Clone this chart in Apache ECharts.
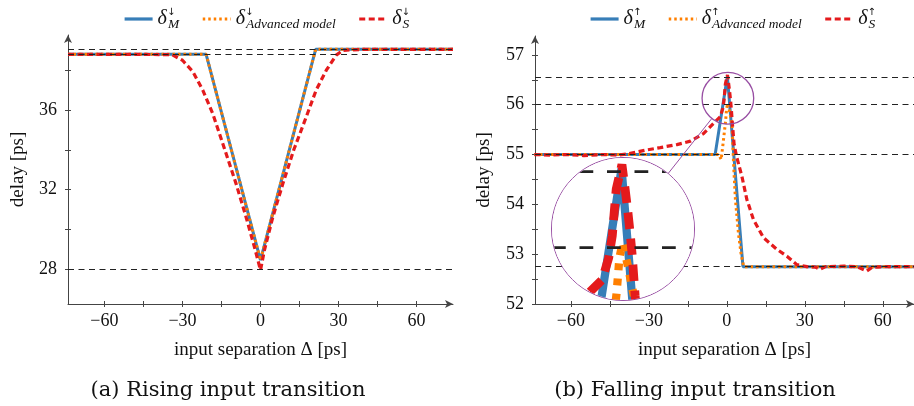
<!DOCTYPE html>
<html><head><meta charset="utf-8">
<script src="https://cdn.jsdelivr.net/npm/echarts@6/dist/echarts.min.js"></script>
<style>
html,body{margin:0;padding:0;background:#fff;}
#wrap{position:relative;width:914px;height:406px;}
#main{position:absolute;left:0;top:0;width:914px;height:406px;}
#spy{position:absolute;border:1.4px solid #984ea3;border-radius:50%;overflow:hidden;background:#fff;width:142px;height:142px;}
#inset{width:142px;height:142px;}
</style></head><body>
<div id="wrap"><div id="main"></div><div id="spy"><div id="inset"></div></div></div>
<script>
// ---------- data ----------
const risingMX  = [-74, -20.9, 0, 21.2, 74];
const risingM   = [38.8, 38.8, 28.45, 39.05, 39.05];
const risingAdvX = [-74, -20.9, 0, 21.2, 74];
const risingAdv  = [38.8, 38.8, 28.45, 39.05, 39.05];
const risingSX = [-74, -50, -34, -30, -26, -22.2, -18.3, -13.7, -9.4, -5.5, -2.3, 0, 1.5, 4.7, 8.6, 12.8, 17.6, 21.4, 25.3, 29.1, 31.7, 40, 74];
const risingS  = [38.8, 38.8, 38.78, 38.5, 37.93, 37.0, 35.8, 34.0, 32.3, 30.6, 29.1, 27.95, 28.95, 30.6, 32.3, 34.0, 35.66, 37.0, 38.0, 38.76, 39.0, 39.05, 39.05];
const risingRefLines = [39.05, 38.8, 28];

const fallingMX = [-74, -4.5, 0.2, 6.2, 72];
const fallingM  = [55, 55, 56.57, 52.75, 52.75];
const fallingAdvX = [-74, -3, -2.2, -1.5, -0.5, -0.1, 0.35, 1.0, 2.0, 2.6, 3.3, 4.5, 5.5, 6.5, 72];
const fallingAdv  = [55, 55, 54.9, 55.2, 55.66, 55.92, 56.03, 55.88, 55.62, 54.8, 54.1, 53.4, 53.0, 52.75, 52.75];
const fallingSX = [-74, -68, -62, -55, -48, -42, -38.5, -31, -25.6, -19.2, -14, -9, -5.2, -2.5, -1.6, -1.1, -0.8, -0.55, 0.25, 0.7, 1.05, 1.4, 1.7, 2.1, 2.8, 3.8, 5.8, 7.7, 10.2, 14.1, 19.2, 23.1, 26.9, 30.8, 34, 35.9, 38, 45, 50, 53.8, 56, 62, 72];
const fallingS  = [55.0, 54.99, 55.0, 54.98, 55.0, 54.99, 55.01, 55.09, 55.14, 55.2, 55.27, 55.42, 55.62, 55.76, 55.92, 56.08, 56.27, 56.42, 56.6, 56.42, 56.27, 56.1, 55.93, 55.64, 55.2, 54.95, 54.56, 54.1, 53.7, 53.33, 53.1, 52.96, 52.79, 52.75, 52.74, 52.7, 52.75, 52.76, 52.75, 52.66, 52.74, 52.75, 52.75];
const fallingRefLines = [56.55, 56.0, 55.0, 52.75];

const xTicks  = [-60, -45, -30, -15, 0, 15, 30, 45, 60];
const xLabels = [-60, -30, 0, 30, 60];
const risingYTicks  = [28, 30, 32, 34, 36, 38];
const risingYLabels = [28, 32, 36];
const fallingYTicks  = [52, 52.5, 53, 53.5, 54, 54.5, 55, 55.5, 56, 56.5, 57];
const fallingYLabels = [52, 53, 54, 55, 56, 57];

const zoomCenter = [0.4, 56.13];   // data point magnified by the spy glass
const zoomMag = 2.75;

// ---------- styles ----------
const SERIF = "'Liberation Serif','DejaVu Serif',serif";
const CAPSERIF = "'DejaVu Serif','Liberation Serif',serif";
const COL = {M: '#377eb8', A: '#ff7f00', S: '#e41a1c'};
const AX = '#444';
const LAYOUT = {
  L: {left: 68, top: 35, width: 385, height: 269, xMin: -74, xMax: 74, yMin: 26.25, yMax: 39.77},
  R: {left: 535, top: 36, width: 379, height: 268, xMin: -73.8, xMax: 72, yMin: 52, yMax: 57.38}
};
const SPY = {cx: 623.7, cy: 229.5, r: 71};

const zip = (xs, ys) => xs.map((x, i) => [x, ys[i]]);
const fmtX = v => v < 0 ? '\u2212' + (-v) : String(v);

function mainX(g, L) {
  return {type: 'value', gridIndex: g, min: L.xMin, max: L.xMax, position: 'bottom',
    axisLine: {show: true, onZero: false, lineStyle: {color: AX, width: 1}, symbol: ['none', 'arrow'], symbolSize: [6, 8]},
    axisTick: {show: true, length: 3, customValues: xTicks, lineStyle: {color: AX}},
    axisLabel: {customValues: xLabels, formatter: fmtX, fontFamily: SERIF, fontSize: 18, color: '#111', margin: 8},
    splitLine: {show: false},
    name: 'input separation \u0394 [ps]', nameLocation: 'middle', nameGap: 37,
    nameTextStyle: {fontFamily: SERIF, fontSize: 19, color: '#111'}};
}
function tickX(g, L) {
  return {type: 'value', gridIndex: g, min: L.xMin, max: L.xMax, position: 'top', offset: -L.height,
    axisLine: {show: false, onZero: false}, axisTick: {show: true, length: 3, customValues: xTicks, lineStyle: {color: AX}},
    axisLabel: {show: false}, splitLine: {show: false}};
}
function mainY(g, L, ticks, labels, gap) {
  return {type: 'value', gridIndex: g, min: L.yMin, max: L.yMax, position: 'left',
    axisLine: {show: true, onZero: false, lineStyle: {color: AX, width: 1}, symbol: ['none', 'arrow'], symbolSize: [6, 8]},
    axisTick: {show: true, length: 3, customValues: ticks, lineStyle: {color: AX}},
    axisLabel: {customValues: labels, fontFamily: SERIF, fontSize: 18, color: '#111', margin: 11},
    splitLine: {show: false},
    name: 'delay [ps]', nameLocation: 'middle', nameGap: gap,
    nameTextStyle: {fontFamily: SERIF, fontSize: 19, color: '#111'}};
}
function tickY(g, L, ticks) {
  return {type: 'value', gridIndex: g, min: L.yMin, max: L.yMax, position: 'right', offset: -L.width,
    axisLine: {show: false, onZero: false}, axisTick: {show: true, length: 3, customValues: ticks, lineStyle: {color: AX}},
    axisLabel: {show: false}, splitLine: {show: false}};
}
function line(name, data, color, type, width, xi, yi, z) {
  return {name, type: 'line', xAxisIndex: xi, yAxisIndex: yi, data, symbol: 'none', showSymbol: false,
    z: z, lineStyle: {color, width, type, cap: 'butt'}, itemStyle: {color}, emphasis: {disabled: true}};
}
function refLines(values, xi, yi, width, dash) {
  return {type: 'line', xAxisIndex: xi, yAxisIndex: yi, data: [], z: 5, silent: true,
    markLine: {silent: true, symbol: ['none', 'none'], label: {show: false}, animation: false,
      lineStyle: {color: '#222', width, type: dash}, emphasis: {disabled: true},
      data: values.map(v => ({yAxis: v}))}};
}

const legendText = {
  'M\u2193': '{d|\u03b4}{ar|\u2193}{sb|M}', 'A\u2193': '{d|\u03b4}{ar|\u2193}{sb|Advanced model}', 'S\u2193': '{d|\u03b4}{ar|\u2193}{sb|S}',
  'M\u2191': '{d|\u03b4}{ar|\u2191}{sb|M}', 'A\u2191': '{d|\u03b4}{ar|\u2191}{sb|Advanced model}', 'S\u2191': '{d|\u03b4}{ar|\u2191}{sb|S}'
};
const legendRich = {
  d:  {fontFamily: SERIF, fontStyle: 'italic', fontSize: 20, lineHeight: 24, verticalAlign: 'middle', color: '#111'},
  ar: {fontFamily: "'DejaVu Sans',sans-serif", fontSize: 10, lineHeight: 12, verticalAlign: 'top', width: 1, color: '#111'},
  sb: {fontFamily: SERIF, fontStyle: 'italic', fontSize: 13.5, lineHeight: 13, verticalAlign: 'bottom', color: '#111'}
};
function legend(left, names) {
  return {left, top: 2, itemWidth: 28, itemHeight: 14, itemGap: 22, data: names, selectedMode: false,
    itemStyle: {opacity: 0, borderWidth: 0}, lineStyle: {width: 3.2},
    formatter: n => legendText[n], textStyle: {rich: legendRich}};
}

const main = echarts.init(document.getElementById('main'), null, {renderer: 'canvas'});
const L = LAYOUT.L, R = LAYOUT.R;
main.setOption({
  animation: false,
  backgroundColor: '#fff',
  grid: [
    {left: L.left, top: L.top, width: L.width, height: L.height},
    {left: R.left, top: R.top, width: R.width, height: R.height}
  ],
  xAxis: [mainX(0, L), tickX(0, L), mainX(1, R), tickX(1, R)],
  yAxis: [mainY(0, L, risingYTicks, risingYLabels, 40), tickY(0, L, risingYTicks),
          mainY(1, R, fallingYTicks, fallingYLabels, 41), tickY(1, R, fallingYTicks)],
  legend: [legend(118, ['M\u2193', 'A\u2193', 'S\u2193']), legend(584, ['M\u2191', 'A\u2191', 'S\u2191'])],
  title: [
    {text: '(a) Rising input transition', left: 223, top: 375, textAlign: 'center',
     textStyle: {fontFamily: CAPSERIF, fontSize: 21, fontWeight: 'normal', color: '#111'}},
    {text: '(b) Falling input transition', left: 690, top: 375, textAlign: 'center',
     textStyle: {fontFamily: CAPSERIF, fontSize: 21, fontWeight: 'normal', color: '#111'}}
  ],
  series: [
    line('M\u2193', zip(risingMX, risingM), COL.M, 'solid', 3, 0, 0, 2),
    line('A\u2193', zip(risingAdvX, risingAdv), COL.A, [2.5, 3], 3, 0, 0, 3),
    line('S\u2193', zip(risingSX, risingS), COL.S, [6, 3.5], 3.2, 0, 0, 4),
    refLines(risingRefLines, 0, 0, 1, [6, 4.5]),
    line('M\u2191', zip(fallingMX, fallingM), COL.M, 'solid', 3, 2, 2, 2),
    line('A\u2191', zip(fallingAdvX, fallingAdv), COL.A, [2.5, 3], 3, 2, 2, 3),
    line('S\u2191', zip(fallingSX, fallingS), COL.S, [6, 3.5], 3.2, 2, 2, 4),
    refLines(fallingRefLines, 2, 2, 1, [6, 4.5])
  ]
});

// spy glass: small circle in data space, magnified copy in a round window
const c = main.convertToPixel({gridIndex: 1}, zoomCenter);
const c1 = main.convertToPixel({gridIndex: 1}, [zoomCenter[0] + 1, zoomCenter[1] + 1]);
const pxX = c1[0] - c[0], pxY = c[1] - c1[1];
const rSmall = SPY.r / zoomMag;
const dx = c[0] - SPY.cx, dy = c[1] - SPY.cy, dl = Math.sqrt(dx * dx + dy * dy);
const ux = dx / dl, uy = dy / dl;
main.setOption({
  graphic: [
    {type: 'circle', z: 50, shape: {cx: c[0], cy: c[1], r: rSmall}, style: {fill: 'none', stroke: '#984ea3', lineWidth: 1.3}},
    {type: 'line', z: 50, shape: {x1: SPY.cx + ux * SPY.r, y1: SPY.cy + uy * SPY.r, x2: c[0] - ux * rSmall, y2: c[1] - uy * rSmall},
     style: {stroke: '#984ea3', lineWidth: 1}}
  ]
});

const spy = document.getElementById('spy');
spy.style.left = (SPY.cx - SPY.r - 1.4) + 'px';
spy.style.top = (SPY.cy - SPY.r - 1.4) + 'px';
const hx = SPY.r / (pxX * zoomMag), hy = SPY.r / (pxY * zoomMag);
const inset = echarts.init(document.getElementById('inset'));
const m = zoomMag;
inset.setOption({
  animation: false,
  backgroundColor: '#fff',
  grid: {left: 0, right: 0, top: 0, bottom: 0},
  xAxis: {type: 'value', min: zoomCenter[0] - hx, max: zoomCenter[0] + hx, show: false},
  yAxis: {type: 'value', min: zoomCenter[1] - hy, max: zoomCenter[1] + hy, show: false},
  series: [
    line('M', zip(fallingMX, fallingM), COL.M, 'solid', 3 * m, 0, 0, 2),
    line('A', zip(fallingAdvX, fallingAdv), COL.A, [2.5 * m, 3 * m], 3 * m, 0, 0, 3),
    line('S', zip(fallingSX, fallingS), COL.S, [6 * m, 3.5 * m], 3.2 * m, 0, 0, 4),
    refLines(fallingRefLines, 0, 0, 1 * m, [5 * m, 5 * m])
  ]
});
</script>
</body></html>
